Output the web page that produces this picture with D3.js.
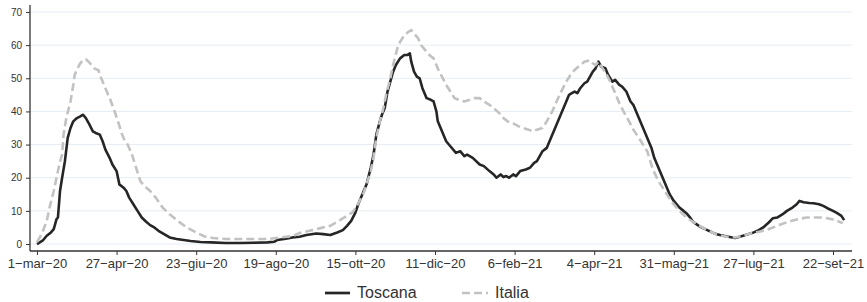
<!DOCTYPE html>
<html>
<head>
<meta charset="utf-8">
<script src="https://cdn.jsdelivr.net/npm/d3@7"></script>
<style>
  body { margin: 0; background: #fff; }
  svg { display: block; font-family: "Liberation Sans", Arial, sans-serif; }
</style>
</head>
<body>
<div id="container"></div>
<script>
// chart size
let width = 867;
let height = 302;

// plot area edges (pixels)
let plotLeft = 30, plotRight = 852, plotTop = 5, plotBottom = 251;

// series start, values are [days from start, value]
let startDate = "2020-03-01";

let toscana = [
  [0,0],[4,1],[7,2.5],[10,3.5],[12,4.5],[14,7.5],[15,8],[16.5,16],[18,20],[20,25],[22,32],[24,35],
  [26,37],[28.6,38],[31,38.5],[33,39],[35,38],[37,36.5],[40,34],[42,33.5],[45,33],[47,31],[49,28.5],
  [52,26],[54,24],[57,22],[59,18],[62,17],[64,16],[66,14],[69,12],[72,10],[75,8],[78,6.8],[81,5.7],
  [84,5],[87,4],[91,3],[95,2],[100,1.5],[105,1.2],[110,0.9],[117,0.6],[125,0.5],[135,0.3],[145,0.3],
  [155,0.4],[165,0.5],[170,0.7],[172,1.2],[177,1.5],[183,2],[188,2.2],[193,2.7],[200,3.2],[205,3],
  [210,2.7],[215,3.5],[219,4.2],[222,5.5],[225,7],[228,9.5],[230,12],[233,15],[236,18],[239,23],
  [241,27],[243,33],[245.5,37],[247,39],[249,41],[251,46],[253,49],[255,52],[257,54],[260,56],
  [263,57],[265,57],[267,57.5],[268,55],[270,52],[272,50.5],[274,50],[276,47],[279,44],[282,43.5],
  [284,43],[286,40],[287,37],[290,34],[293,31],[296,29.5],[300,27.5],[303,28],[306,26.5],[308,27],
  [312,26],[317,24],[320,23.5],[324,22],[327,21],[329,20],[332,21],[334,20.2],[336,20.5],[338,20],
  [341,21],[343,20.5],[346,22],[350,22.5],[353,23],[356,24.5],[358,25],[360,26.5],[362,28],[365,29],
  [368,32],[372,36],[375,39],[379,43],[381,45],[383,45.5],[385,46],[387,45.5],[389,47],[392,48.5],
  [394,49],[396,50.5],[398,52],[400,53],[402,55],[404,53.5],[407,53],[409,51],[412,49],[414,49.5],
  [417,48],[419,47.5],[422,46],[425,43],[427,42],[430,39],[434,35],[437,32],[440,29],[442,26],
  [446,22],[450,18],[453,15],[456,13],[460,11],[463,10],[465,9.3],[468,7.8],[470,6.6],[475,5.2],
  [480,4.2],[485,3.2],[489,2.7],[495,2.2],[500,1.8],[505,2.4],[512,3.3],[516,4],[520,5],[524,6.5],
  [527,7.8],[530,8],[534,9],[537,10],[541,11],[544,12],[546,13],[549,12.6],[553,12.4],[556,12.3],
  [560,12],[563,11.5],[566,10.8],[570,10],[573,9.3],[576,8.5],[578,7.2]
];

let italia = [
  [0,0.6],[2,2],[4,3.6],[7,7],[9,11],[12,16],[14,20],[16,24],[18,27],[19,33],[21,38],[24,43],
  [26,48],[27,51],[29,53],[31,54.5],[33,55.5],[35,55.7],[37,55],[39,54],[41,53],[44,52.4],[46,50],
  [48,48],[50,46],[53,43],[56,39.5],[58,37],[61,33],[63,31],[65,30],[68,27],[71,23],[74,19],
  [77,17.5],[81,16],[85,14],[90,11],[95,9],[102,6.6],[108,4.8],[115,3.3],[120,2.3],[126,1.8],
  [135,1.5],[150,1.5],[165,1.5],[175,2],[183,2.4],[188,3.3],[195,4],[203,4.8],[210,5.5],[217,7.2],
  [222,8.5],[226,9.6],[229,11.5],[231,13],[234,15.5],[236,18],[239,22],[241,26],[243,32],[245,36],
  [248,41],[250,45],[253,50],[255,54],[258,59],[260,61],[263,63],[266,64],[268,64.5],[270,63.5],
  [273,62],[275,60],[278,58.5],[281,57],[284,56],[286,54],[288,52],[290,50.5],[293,48],[296,46],
  [299,44],[302,43.5],[306,43],[310,43.5],[313,44],[317,44],[320,43],[324,42],[327,41],[331,39.5],
  [334,38],[337,37],[341,36.4],[345,35.5],[348,35],[352,34.5],[355,34],[358,34.5],[362,35],[365,37],
  [369,40],[372,43],[376,46.5],[379,49],[382,51],[385,52.5],[389,54],[392,55],[396,55.4],[398,54.5],
  [400,54],[402,55],[405,53],[408,51],[410,49.4],[413,46.5],[417,42.5],[420,40],[424,37],[427,34.5],
  [431,32],[434,30],[437,28],[441,22.5],[445,19],[448,17],[451,15],[455,12.5],[460,10],[465,8],
  [470,6.6],[475,5.3],[480,4.2],[485,3.2],[491,2.4],[496,2.1],[500,2],[506,2.6],[512,3.3],[517,3.7],
  [522,4.2],[527,5],[532,5.8],[537,6.6],[542,7.2],[546,7.6],[551,8],[556,8],[561,8],[566,7.8],
  [570,7.4],[574,6.8],[577,6.3]
];

// axis ticks
let xTickDates = ["2020-03-01","2020-04-27","2020-06-23","2020-08-19","2020-10-15","2020-12-11",
                  "2021-02-06","2021-04-04","2021-05-31","2021-07-27","2021-09-22"];
let xTickLabels = ["1\u2212mar\u221220","27\u2212apr\u221220","23\u2212giu\u221220","19\u2212ago\u221220",
                   "15\u2212ott\u221220","11\u2212dic\u221220","6\u2212feb\u221221","4\u2212apr\u221221",
                   "31\u2212mag\u221221","27\u2212lug\u221221","22\u2212set\u221221"];
let yTicks = [0, 10, 20, 30, 40, 50, 60, 70];

let seriesNames = ["Toscana", "Italia"];

function DOMContentLoadedListener_chart() {
    let parse = d3.utcParse("%Y-%m-%d");
    let start = parse(startDate);
    let dayToDate = function(d) { return new Date(start.getTime() + d * 864e5); };

    let x = d3.scaleUtc()
        .domain([dayToDate(-5), dayToDate(583.6)])
        .range([plotLeft, plotRight]);
    let y = d3.scaleLinear()
        .domain([-2.1, 72.1])
        .range([plotBottom, plotTop]);

    let svg = d3.select('#container').append('svg')
        .attr('width', width)
        .attr('height', height);

    // grid
    svg.append('g').selectAll('line').data(yTicks).enter().append('line')
        .attr('x1', plotLeft).attr('x2', plotRight)
        .attr('y1', d => y(d)).attr('y2', d => y(d))
        .attr('stroke', '#e6edf3').attr('stroke-width', 1);

    // y axis
    let yAxis = svg.append('g')
        .attr('transform', 'translate(' + plotLeft + ',0)')
        .call(d3.axisLeft(y).tickValues(yTicks).tickSize(4).tickPadding(4).tickSizeOuter(0));
    yAxis.select('.domain').attr('stroke', '#333').attr('stroke-width', 1.3)
        .attr('d', 'M0,' + plotTop + 'V' + plotBottom);
    yAxis.selectAll('.tick line').attr('stroke', '#333');
    yAxis.selectAll('.tick text').attr('font-size', 10).attr('fill', '#333')
        .attr('font-family', '"Liberation Sans", Arial, sans-serif');

    // x axis
    let xTickObjs = xTickDates.map(parse);
    let xAxis = svg.append('g')
        .attr('transform', 'translate(0,' + plotBottom + ')')
        .call(d3.axisBottom(x).tickValues(xTickObjs)
              .tickFormat((d, i) => xTickLabels[i])
              .tickSize(4).tickPadding(4).tickSizeOuter(0));
    xAxis.select('.domain').attr('stroke', '#333').attr('stroke-width', 1.3)
        .attr('d', 'M' + plotLeft + ',0H' + plotRight);
    xAxis.selectAll('.tick line').attr('stroke', '#333');
    xAxis.selectAll('.tick text').attr('font-size', 13).attr('fill', '#333')
        .attr('font-family', '"Liberation Sans", Arial, sans-serif');

    let line = d3.line()
        .x(d => x(dayToDate(d[0])))
        .y(d => y(d[1]));

    svg.append('path').datum(toscana)
        .attr('d', line)
        .attr('fill', 'none')
        .attr('stroke', '#262626')
        .attr('stroke-width', 2.6)
        .attr('stroke-linejoin', 'round');

    svg.append('path').datum(italia)
        .attr('d', line)
        .attr('fill', 'none')
        .attr('stroke', '#c2c2c2')
        .attr('stroke-width', 2.6)
        .attr('stroke-dasharray', '8,4');

    // legend
    let legend = svg.append('g');
    legend.append('line')
        .attr('x1', 325).attr('x2', 350).attr('y1', 293).attr('y2', 293)
        .attr('stroke', '#262626').attr('stroke-width', 2.7);
    legend.append('text').attr('x', 357).attr('y', 298)
        .attr('font-size', 16).attr('fill', '#333').text(seriesNames[0]);
    legend.append('line')
        .attr('x1', 462).attr('x2', 488).attr('y1', 293).attr('y2', 293)
        .attr('stroke', '#c2c2c2').attr('stroke-width', 2.7)
        .attr('stroke-dasharray', '8,4');
    legend.append('text').attr('x', 495).attr('y', 298)
        .attr('font-size', 16).attr('fill', '#333').text(seriesNames[1]);
}

document.addEventListener("DOMContentLoaded", DOMContentLoadedListener_chart);
</script>
</body>
</html>
